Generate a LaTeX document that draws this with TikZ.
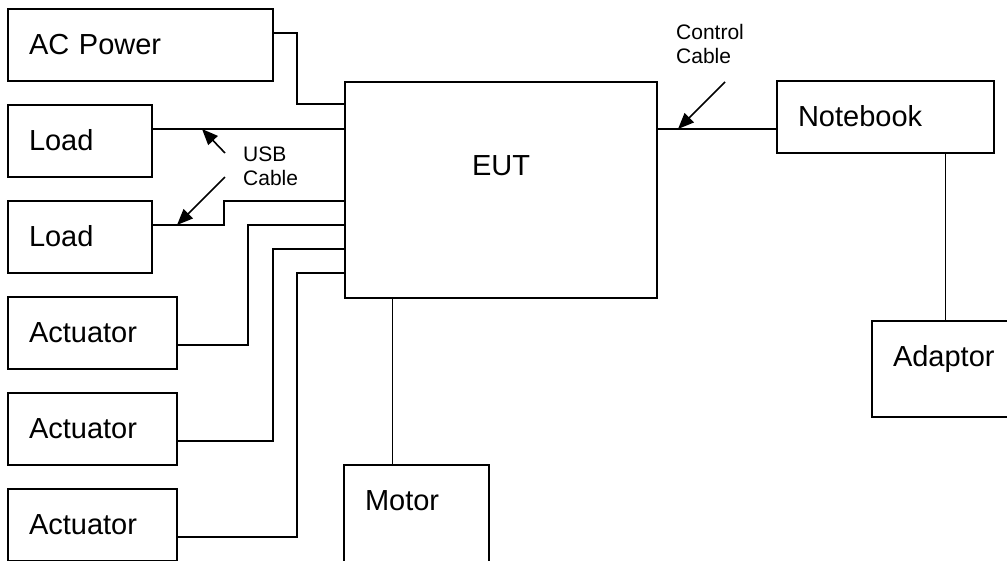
\documentclass[tikz,border=0pt]{standalone}
\usepackage{fontspec}
\setmainfont{Liberation Sans}
\usetikzlibrary{arrows.meta,positioning}

\begin{document}
\begin{tikzpicture}[x=1pt,y=-1pt,line cap=butt,line join=miter,
  unit/.style={draw,line width=2pt,anchor=north west,outer sep=0pt,inner ysep=0pt,inner xsep=21pt,
    align=left,text height=45pt,text depth=27pt,font=\fontsize{29}{34}\selectfont},
  wire/.style={line width=1.6pt},
  tag/.style={anchor=north west,inner sep=0pt,align=left,font=\fontsize{21}{24}\selectfont},
  pointer/.style={line width=1.6pt,-{Triangle[length=16pt,width=13pt]}}]
  \useasboundingbox (0,0) rectangle (1007,560);
  \clip (0,0) rectangle (1007,560);

  \node[unit,text width=223pt] (acpower) at (8,9) {AC Power};
  \node[unit,text width=102pt,below right=24pt and 0pt of acpower.south west] (load1) {Load};
  \node[unit,text width=102pt,below right=24pt and 0pt of load1.south west] (load2) {Load};
  \node[unit,text width=127pt,below right=24pt and 0pt of load2.south west] (act1) {Actuator};
  \node[unit,text width=127pt,below right=24pt and 0pt of act1.south west] (act2) {Actuator};
  \node[unit,text width=127pt,below right=24pt and 0pt of act2.south west] (act3) {Actuator};
  \node[unit,text width=270pt,align=center,text height=93pt,text depth=123pt] (eut) at (345,82) {EUT};
  \node[unit,text width=103pt,text depth=100pt] (motor) at (344,465) {Motor};
  \node[unit,text width=175pt] (notebook) at (777,81) {Notebook};
  \node[unit,text width=128pt,text depth=51pt] (adaptor) at (872,321) {Adaptor};

  \draw[wire] ([yshift=12pt]acpower.east) -- ++(24,0) |- ([yshift=-22pt]eut.north west);
  \draw[wire] ([yshift=12pt]load1.east) -- ([yshift=12pt]load1.east -| eut.west);
  \draw[wire] ([yshift=12pt]load2.east) -- ++(72,0) |- ([yshift=-119pt]eut.north west);
  \draw[wire] ([yshift=-12pt]act1.east) -- ++(71,0) |- ([yshift=-143pt]eut.north west);
  \draw[wire] ([yshift=-12pt]act2.east) -- ++(96,0) |- ([yshift=-167pt]eut.north west);
  \draw[wire] ([yshift=-12pt]act3.east) -- ++(120,0) |- ([yshift=-191pt]eut.north west);
  \draw[wire] ([xshift=-24pt]motor.north) -- ([xshift=-24pt]motor.north |- eut.south);
  \draw[wire] ([yshift=-12pt]notebook.west) -- ([yshift=-12pt]notebook.west -| eut.east);
  \draw[wire] ([xshift=60pt]notebook.south) -- ([xshift=60pt]notebook.south |- adaptor.north);

  \node[tag] (usb) at (243,147) {USB\\Cable};
  \node[tag] (ctrl) at (676,24) {Control\\Cable};
  \draw[pointer] ([shift={(-18,6)}]usb.north west) -- ([shift={(50,-12)}]load1.east);
  \draw[pointer] ([shift={(-18,30)}]usb.north west) -- ([shift={(25,-12)}]load2.east);
  \draw[pointer] ([shift={(49,58)}]ctrl.north west) -- ([shift={(-99,12)}]notebook.west);
\end{tikzpicture}
\end{document}
